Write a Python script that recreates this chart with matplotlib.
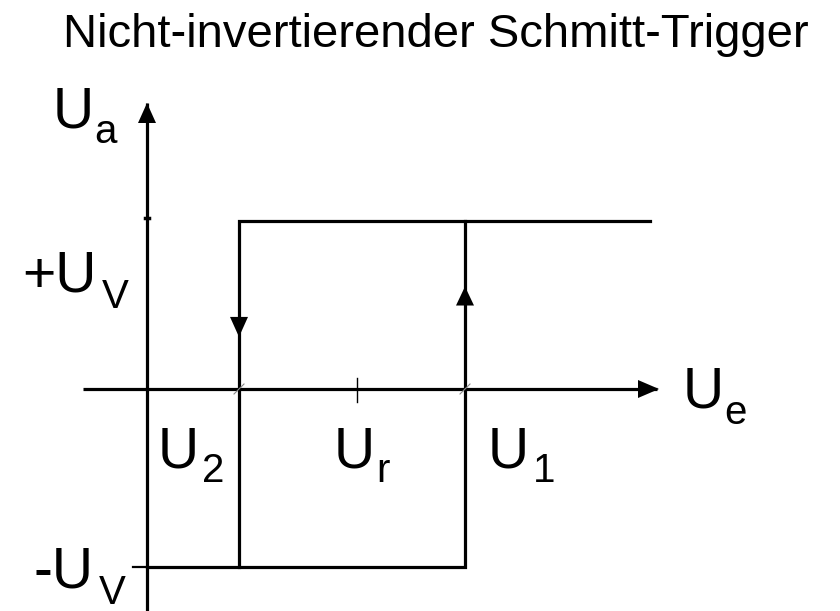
import matplotlib
matplotlib.use('Agg')
import matplotlib.pyplot as plt
from matplotlib.patches import Polygon

plt.rcParams['font.family'] = ['Liberation Sans', 'DejaVu Sans']

# ---- data (diagram units, origin at the axis crossing) ----
title = "Nicht-invertierender Schmitt-Trigger"
threshold_names = ['U', 'U', 'U']
threshold_subs = ['2', 'r', '1']
threshold_values = [92, 210, 318]          # U2, Ur, U1 on the Ue axis
level_names = ['+U', '-U']
level_subs = ['V', 'V']
level_values = [168, -178]                 # +Uv, -Uv
axis_names = ['U', 'U']
axis_subs = ['e', 'a']
x_axis_range = [-64, 510]
y_axis_range = [-222, 286]
upper_branch_end = 503
y_tick_value = 171

U2, Ur, U1 = threshold_values
hi, lo = level_values

fig = plt.figure(figsize=(8.4, 6.11), dpi=100)
ax = fig.add_axes([0, 0, 1, 1])
ax.set_xlim(-147, 693)
ax.set_ylim(-222, 389)
ax.axis('off')

lw = 2.3
k = 'black'

# axes
ax.plot(x_axis_range, [0, 0], color=k, lw=lw, solid_capstyle='butt')
ax.plot([0, 0], y_axis_range, color=k, lw=lw, solid_capstyle='butt')

def head(tip_x, tip_y, dx, dy, length, half):
    bx, by = tip_x - dx * length, tip_y - dy * length
    px, py = -dy * half, dx * half
    ax.add_patch(Polygon([[tip_x, tip_y], [bx + px, by + py], [bx - px, by - py]],
                         closed=True, color=k, lw=0))

head(x_axis_range[1] + 2, 0, 1, 0, 21, 9)
head(0, y_axis_range[1], 0, 1, 20, 9)

# hysteresis loop
ax.plot([upper_branch_end, U2, U2], [hi, hi, lo], color=k, lw=lw, solid_joinstyle='miter')
ax.plot([0, U1, U1], [lo, lo, hi], color=k, lw=lw, solid_joinstyle='miter')
head(U2, hi * 0.31, 0, -1, 20, 9)
head(U1, hi * 0.61, 0, 1, 19, 9)

# ticks
ax.plot([-14, 0], [lo, lo], color=k, lw=1.6)
ax.plot([Ur, Ur], [-13, 11], color=k, lw=1.0)
ax.plot([-2, 2], [y_tick_value, y_tick_value], color=k, lw=2.5)
for xv in (U2, U1):
    ax.plot([xv - 5, xv + 5], [-5, 5], color='#888888', lw=0.8)

# texts
fs_big, fs_sub = 41, 29

def label(main, sub, x, y, sx, sy):
    ax.text(x, y, main, fontsize=fs_big, ha='left', va='baseline')
    ax.text(x + sx, y + sy, sub, fontsize=fs_sub, ha='left', va='baseline')

ax.text(289, 342, title, fontsize=34, ha='center', va='baseline')
label(axis_names[1], axis_subs[1], -94.5, 262, 42, -16)
label(axis_names[0], axis_subs[0], 535.5, -18, 42, -17)
label(level_names[0], level_subs[0], -125, 97, 80, -16)
label(level_names[1], level_subs[1], -114, -199, 66, -16)
label(threshold_names[0], threshold_subs[0], U2 - 81.5, -79, 45, -14)
label(threshold_names[1], threshold_subs[1], Ur - 23.5, -79, 43, -14)
label(threshold_names[2], threshold_subs[2], U1 + 22.5, -79, 45, -14)

fig.savefig('out.png', dpi=100, facecolor='white')
